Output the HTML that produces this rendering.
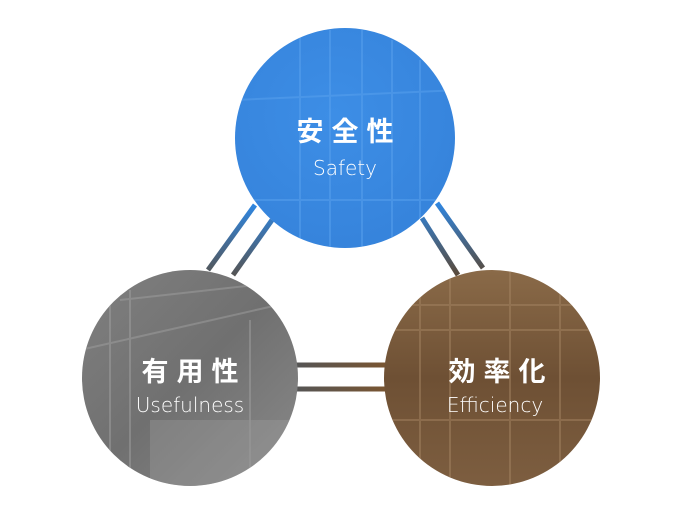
<!DOCTYPE html>
<html><head><meta charset="utf-8"><style>
html,body{margin:0;padding:0;background:#fff;}
svg{display:block}
.k{font-family:"Liberation Sans","Noto Sans CJK JP",sans-serif;font-size:27px;font-weight:bold;fill:#fff;letter-spacing:8px;text-anchor:middle}
.e{font-family:"DejaVu Sans","Liberation Sans",sans-serif;font-weight:200;font-size:20px;fill:#fff;text-anchor:middle}
</style></head><body>
<svg width="690" height="518" viewBox="0 0 690 518" xmlns="http://www.w3.org/2000/svg">
<defs>
<linearGradient id="gl" gradientUnits="userSpaceOnUse" x1="0" y1="275" x2="0" y2="205"><stop offset="0" stop-color="#555"/><stop offset="1" stop-color="#2f86e0"/></linearGradient>
<linearGradient id="gr" gradientUnits="userSpaceOnUse" x1="0" y1="203" x2="0" y2="275"><stop offset="0" stop-color="#2f86e0"/><stop offset="1" stop-color="#5a4a3a"/></linearGradient>
<linearGradient id="gh" gradientUnits="userSpaceOnUse" x1="296" y1="0" x2="388" y2="0"><stop offset="0" stop-color="#555"/><stop offset="1" stop-color="#7a5530"/></linearGradient>
<radialGradient id="cb" cx="0.45" cy="0.4" r="0.7"><stop offset="0" stop-color="#3d8ee6"/><stop offset="1" stop-color="#3582da"/></radialGradient>
<linearGradient id="cg" x1="0" y1="0" x2="1" y2="1"><stop offset="0" stop-color="#808080"/><stop offset="0.5" stop-color="#707070"/><stop offset="1" stop-color="#8a8a8a"/></linearGradient>
<linearGradient id="cr" x1="0" y1="0" x2="0" y2="1"><stop offset="0" stop-color="#8a6a48"/><stop offset="0.5" stop-color="#6e5034"/><stop offset="1" stop-color="#7d5e40"/></linearGradient>
<clipPath id="c1"><circle cx="345" cy="138" r="110"/></clipPath>
<clipPath id="c2"><circle cx="190" cy="378" r="108"/></clipPath>
<clipPath id="c3"><circle cx="492" cy="378" r="108"/></clipPath>
</defs>
<g stroke-width="5" fill="none">
<line x1="208" y1="270" x2="255" y2="205" stroke="url(#gl)"/>
<line x1="233" y1="275" x2="272" y2="220" stroke="url(#gl)"/>
<line x1="437" y1="203" x2="483" y2="268" stroke="url(#gr)"/>
<line x1="422" y1="218" x2="458" y2="275" stroke="url(#gr)"/>
<line x1="296" y1="365" x2="388" y2="365" stroke="url(#gh)"/>
<line x1="296" y1="389" x2="388" y2="389" stroke="url(#gh)"/>
</g>
<circle cx="345" cy="138" r="110" fill="url(#cb)"/>
<g clip-path="url(#c1)" stroke="#5aa2ee" stroke-width="2" opacity="0.5">
<line x1="300" y1="30" x2="300" y2="250"/><line x1="330" y1="30" x2="330" y2="250"/><line x1="362" y1="30" x2="362" y2="250"/><line x1="392" y1="40" x2="392" y2="250"/><line x1="420" y1="60" x2="420" y2="250"/>
<line x1="235" y1="100" x2="460" y2="90"/><line x1="235" y1="200" x2="460" y2="200"/>
</g>
<circle cx="190" cy="378" r="108" fill="url(#cg)"/>
<g clip-path="url(#c2)" stroke="#a0a0a0" stroke-width="2" opacity="0.5">
<line x1="120" y1="300" x2="300" y2="280"/><line x1="80" y1="350" x2="300" y2="300"/>
<line x1="110" y1="290" x2="110" y2="490"/><line x1="130" y1="290" x2="130" y2="490"/><line x1="250" y1="320" x2="250" y2="490"/>
<rect x="150" y="420" width="150" height="70" fill="#a8a8a8" stroke="none" opacity="0.6"/>
</g>
<circle cx="492" cy="378" r="108" fill="url(#cr)"/>
<g clip-path="url(#c3)" stroke="#a48462" stroke-width="2" opacity="0.5">
<line x1="383" y1="305" x2="600" y2="305"/><line x1="383" y1="330" x2="600" y2="330"/><line x1="383" y1="420" x2="600" y2="420"/>
<line x1="420" y1="270" x2="420" y2="490"/><line x1="450" y1="270" x2="450" y2="490"/><line x1="510" y1="270" x2="510" y2="490"/><line x1="560" y1="270" x2="560" y2="490"/>
</g>
<text class="k" x="349" y="141">安全性</text>
<text class="e" x="345" y="175">Safety</text>
<text class="k" x="194" y="381">有用性</text>
<text class="e" x="190" y="412">Usefulness</text>
<text class="k" x="501" y="381">効率化</text>
<text class="e" x="495" y="412">Efficiency</text>
</svg>
</body></html>
